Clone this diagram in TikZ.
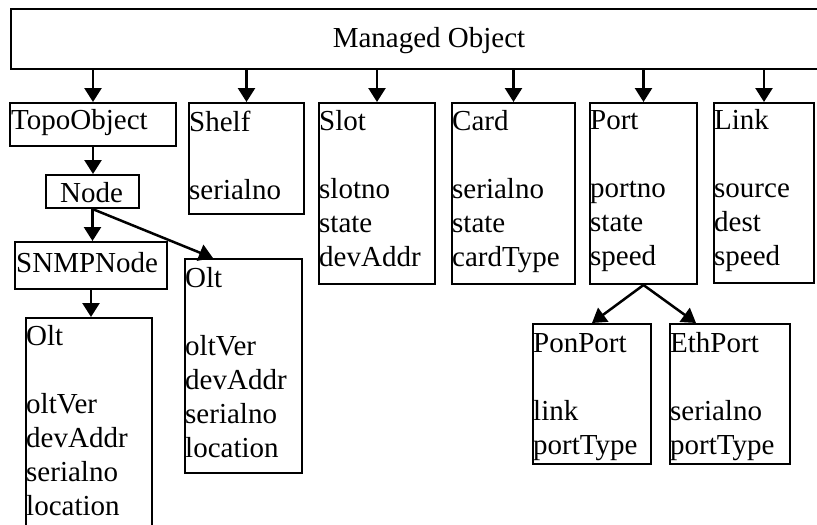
\documentclass[tikz,border=0pt]{standalone}
\usepackage{fontspec}
\setmainfont{Liberation Serif}
\usetikzlibrary{arrows.meta}
% a class name followed by its field names, first baseline on top
\newcommand\fieldlist[1]{\begin{tabular}[t]{@{}l@{}}#1\end{tabular}}
\begin{document}
\begin{tikzpicture}[x=1pt,y=-1pt,
  font=\fontsize{29}{34}\selectfont,
  box/.style={draw, line width=2pt, inner sep=0pt, anchor=north west},
  arr/.style={line width=2.5pt, -{Triangle[length=14pt,width=17pt]}},
  txt/.style={inner sep=0pt, anchor=base west}]
\clip (0,0) rectangle (817,525);

% class boxes
\node[box, minimum width=838pt, minimum height=60pt]  (mo)    at (10,8)    {};
\node[box, minimum width=166pt, minimum height=43pt]  (topo)  at (9,102)   {};
\node[box, minimum width=93pt,  minimum height=33pt]  (node)  at (45,174)  {};
\node[box, minimum width=152pt, minimum height=47pt]  (snmp)  at (14,241)  {};
\node[box, minimum width=126pt, minimum height=250pt] (oltl)  at (25,317)  {};
\node[box, minimum width=117pt, minimum height=214pt] (oltr)  at (184,258) {};
\node[box, minimum width=115pt, minimum height=111pt] (shelf) at (188,102) {};
\node[box, minimum width=116pt, minimum height=181pt] (slot)  at (318,102) {};
\node[box, minimum width=123pt, minimum height=181pt] (card)  at (451,102) {};
\node[box, minimum width=107pt, minimum height=181pt] (port)  at (589,102) {};
\node[box, minimum width=100pt, minimum height=180pt] (link)  at (713,102) {};
\node[box, minimum width=118pt, minimum height=140pt] (pon)   at (532,323) {};
\node[box, minimum width=120pt, minimum height=140pt] (eth)   at (669,323) {};

% box texts
\node[inner sep=0pt, anchor=base] (mo-t) at (429,47) {Managed Object};
\node[txt] (topo-t) at (11,129) {TopoObject};
\node[inner sep=0pt, anchor=base] (node-t) at (91.5,202) {Node};
\node[txt] (snmp-t) at (16,272) {SNMPNode};
\node[txt] (oltl-t)  at (26,345)  {\fieldlist{Olt\\ \\oltVer\\devAddr\\serialno\\location}};
\node[txt] (oltr-t)  at (185,287) {\fieldlist{Olt\\ \\oltVer\\devAddr\\serialno\\location}};
\node[txt] (shelf-t) at (189,131) {\fieldlist{Shelf\\ \\serialno}};
\node[txt] (slot-t)  at (319,130) {\fieldlist{Slot\\ \\slotno\\state\\devAddr}};
\node[txt] (card-t)  at (452,130) {\fieldlist{Card\\ \\serialno\\state\\cardType}};
\node[txt] (port-t)  at (590,129) {\fieldlist{Port\\ \\portno\\state\\speed}};
\node[txt] (link-t)  at (714,129) {\fieldlist{Link\\ \\source\\dest\\speed}};
\node[txt] (pon-t)   at (533,352) {\fieldlist{PonPort\\ \\link\\portType}};
\node[txt] (eth-t)   at (670,352) {\fieldlist{EthPort\\ \\serialno\\portType}};

% inheritance arrows
\foreach \c in {topo,shelf,slot,card,port,link}
  \draw[arr] (mo.south -| \c.north) -- (\c.north);
\draw[arr] (topo.south) -- (topo.south |- node.north);
\draw[arr] (node.south) -- (node.south |- snmp.north);
\draw[arr] (node.south) -- ([xshift=29pt]oltr.north west);
\draw[arr] (snmp.south) -- (snmp.south |- oltl.north);
\draw[arr] (port.south) -- (pon.north);
\draw[arr] (port.south) -- ([xshift=27pt]eth.north west);
\end{tikzpicture}
\end{document}
